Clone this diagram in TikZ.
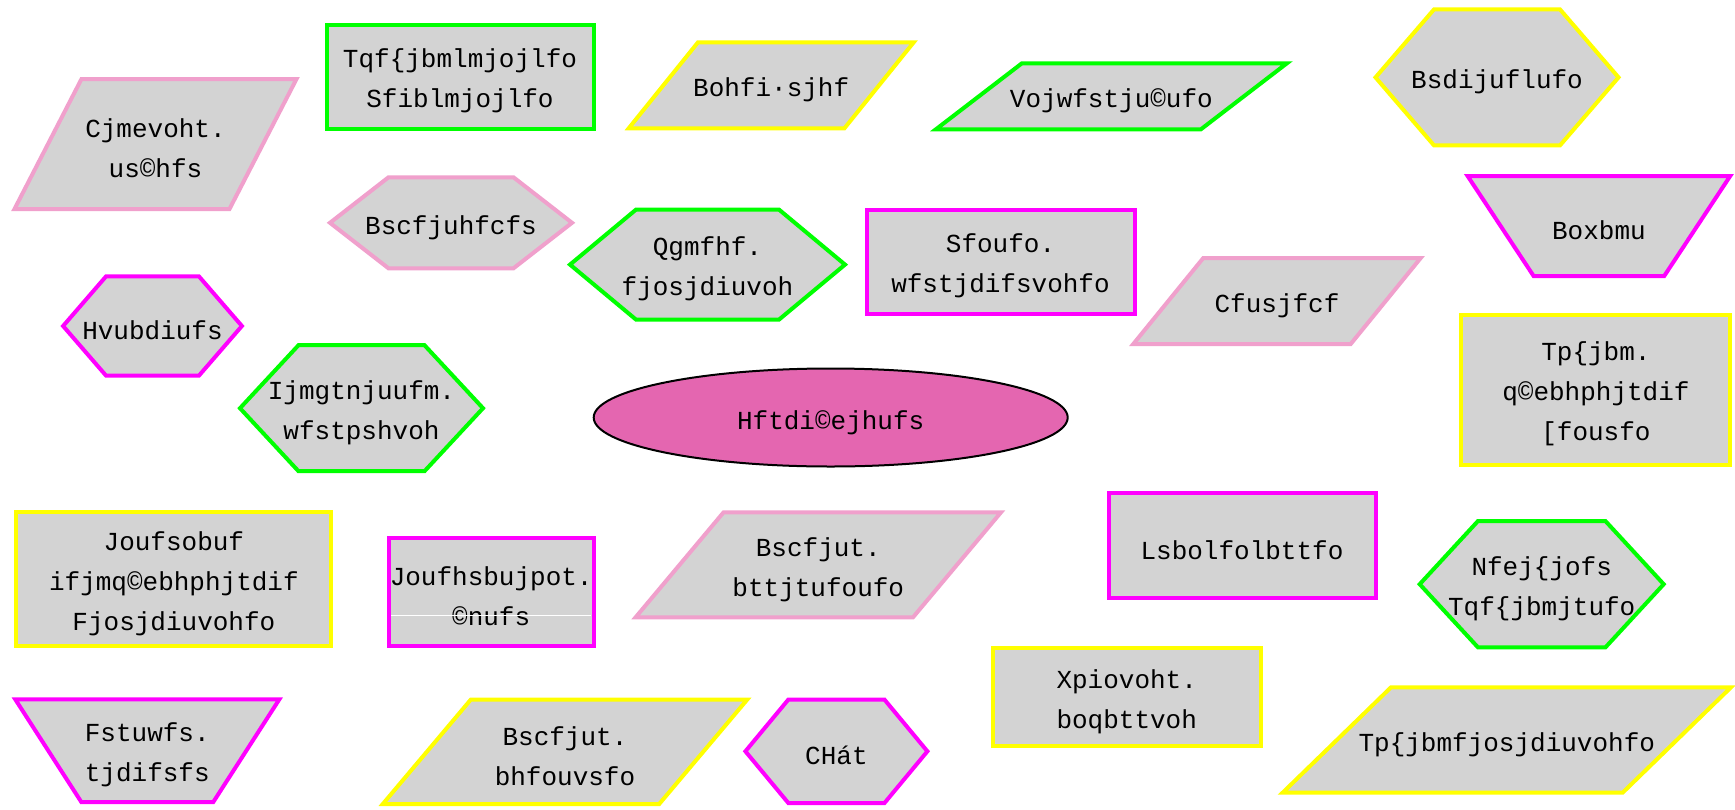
\documentclass[tikz,border=0pt]{standalone}
\usepackage{fontspec}
\setmonofont{Liberation Mono}
\usepackage{tikz}
\usetikzlibrary{shapes.geometric}
\usepackage{xcolor}
\definecolor{pink}{HTML}{F0A0CC}
\definecolor{green}{HTML}{00FF00}
\definecolor{magenta}{HTML}{FF00FF}
\definecolor{yellow}{HTML}{FFFF00}
\definecolor{lightgray}{HTML}{D3D3D3}
\definecolor{hotpink}{HTML}{E466B0}
\newcommand{\lblfont}{\ttfamily\fontsize{26}{40}\selectfont}
\tikzstyle{txt} = [inner sep=0pt, align=center, font=\lblfont, yshift=-4.5pt]
\tikzset{
	rim/.style={draw=#1, line width=4pt, fill=lightgray},
	hub/.style={ellipse, draw, line width=2pt, fill=hotpink, inner sep=0pt, font=\lblfont, text height=24pt, text depth=0pt, minimum width=474pt, minimum height=98pt}
	}
% name, centre, half width, half height, colour, text
\newcommand{\boxnode}[6]{%
	\draw[rim=#5, shift={#2}] (-#3,-#4) rectangle (#3,#4);
	\node[txt] (#1) at #2 {#6};}
% name, centre, half width, half height, tip, colour, text
\newcommand{\hexnode}[7]{%
	\draw[rim=#6, shift={#2}] (-#3,0) -- (-#3+#5,-#4) -- (#3-#5,-#4) -- (#3,0) -- (#3-#5,#4) -- (-#3+#5,#4) -- cycle;
	\node[txt] (#1) at #2 {#7};}
% name, centre, half width, half height, slant, colour, text
\newcommand{\parnode}[7]{%
	\draw[rim=#6, shift={#2}] (-#3,#4) -- (#3-#5,#4) -- (#3,-#4) -- (-#3+#5,-#4) -- cycle;
	\node[txt] (#1) at #2 {#7};}
% name, centre, half top width, half height, inset, colour, text
\newcommand{\trapnode}[7]{%
	\draw[rim=#6, shift={#2}] (-#3,-#4) -- (#3,-#4) -- (#3-#5,#4) -- (-#3+#5,#4) -- cycle;
	\node[txt] (#1) at #2 {#7};}

\begin{document}
\begin{tikzpicture}[x=1pt, y=-1pt]
	\path[fill=white, use as bounding box] (0,0) rectangle (1735,809);

	\parnode{edu}{(155.5,144)}{141}{65}{67}{pink}{Cjmevoht.\\us©hfs}
	\boxnode{clinic}{(460,76.6)}{133.5}{52}{green}{Tqf\{jbmlmjojlfo\\Sfiblmjojlfo}
	\parnode{kin}{(771.2,85.3)}{142.5}{43}{69.3}{yellow}{Bohfi·sjhf}
	\parnode{uni}{(1111.4,96.3)}{175.5}{33}{86}{green}{Vojwfstju©ufo}
	\hexnode{arch}{(1497,77.4)}{121.5}{68}{58.5}{yellow}{Bsdijuflufo}

	\hexnode{empl}{(451,222.8)}{121}{45.5}{58.5}{pink}{Bscfjuhfcfs}
	\hexnode{care}{(707.5,264.6)}{137.5}{55}{66}{green}{Qgmfhf.\\fjosjdiuvoh}
	\boxnode{pension}{(1000.5,261.7)}{134}{52.2}{magenta}{Sfoufo.\\wfstjdifsvohfo}
	\trapnode{lawyer}{(1598.9,226)}{131.3}{50}{66}{magenta}{Boxbmu}
	\hexnode{expert}{(152.5,326)}{89.4}{49.7}{43}{magenta}{Hvubdiufs}
	\parnode{firm}{(1277,301)}{143.7}{43}{70}{pink}{Cfusjfcf}

	\hexnode{aids}{(361.5,408.2)}{121.5}{63}{58.5}{green}{Ijmgtnjuufm.\\wfstpshvoh}
	\node[hub] (victim) at (830.7,417.5) {Hftdi©ejhufs};
	\boxnode{youth}{(1595.9,389.7)}{134.5}{75}{yellow}{Tp\{jbm.\\q©ebhphjtdif\\{[}fousfo}

	\boxnode{school}{(173.9,579.2)}{157.5}{67}{yellow}{Joufsobuf\\ifjmq©ebhphjtdif\\Fjosjdiuvohfo}
	\boxnode{integ}{(491.2,592)}{102.5}{54}{magenta}{Joufhsbujpot.\\©nufs}
	\draw[white, line width=1pt, shift={(491.2,592)}] (-100,23) -- (100,23);
	\parnode{assist}{(818.3,564.8)}{182.7}{52.5}{88}{pink}{Bscfjut.\\bttjtufoufo}
	\boxnode{health}{(1242,545.3)}{133.5}{52.7}{magenta}{Lsbolfolbttfo}
	\hexnode{med}{(1541.7,584.2)}{122}{63.2}{58.3}{green}{Nfej\{jofs\\Tqf\{jbmjtufo}

	\trapnode{insurer}{(147.3,750.7)}{132}{51.3}{66}{magenta}{Fstuwfs.\\tjdifsfs}
	\parnode{agency}{(565,751.8)}{182.2}{52.2}{88}{yellow}{Bscfjut.\\bhfouvsfo}
	\hexnode{bg}{(836.4,751.3)}{91}{51.8}{43}{magenta}{CHát}
	\boxnode{housing}{(1126.7,697)}{134}{49.3}{yellow}{Xpiovoht.\\boqbttvoh}
	\parnode{social}{(1506.8,740)}{224.2}{52.7}{108.4}{yellow}{Tp\{jbmfjosjdiuvohfo}
\end{tikzpicture}
\end{document}
